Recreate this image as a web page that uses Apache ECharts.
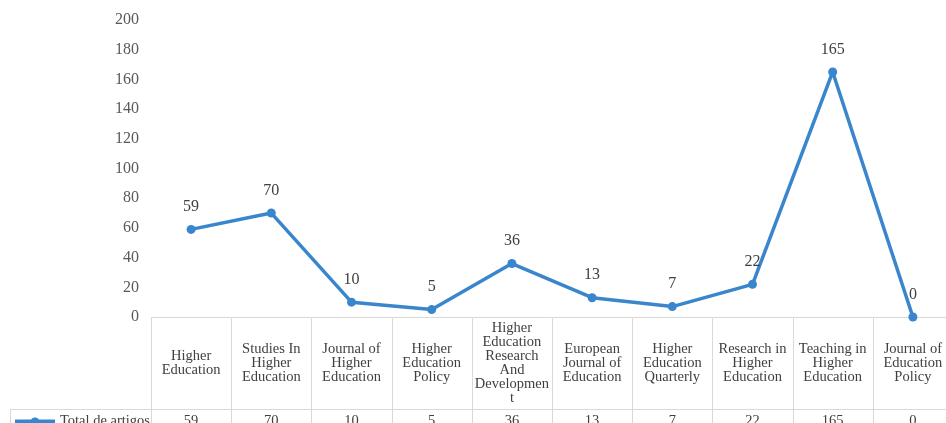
<!DOCTYPE html>
<html><head><meta charset="utf-8">
<script src="https://cdn.jsdelivr.net/npm/echarts@6/dist/echarts.min.js"></script>
<style>html,body{margin:0;padding:0;background:#fff}#c{width:946px;height:423px}</style>
</head><body><div id="c"></div>
<script>
const categories = ["Higher\nEducation","Studies In\nHigher\nEducation","Journal of\nHigher\nEducation","Higher\nEducation\nPolicy","Higher\nEducation\nResearch\nAnd\nDevelopmen\nt","European\nJournal of\nEducation","Higher\nEducation\nQuarterly","Research in\nHigher\nEducation","Teaching in\nHigher\nEducation","Journal of\nEducation\nPolicy"];
const seriesName = "Total de artigos";
const values = [59,70,10,5,36,13,7,22,165,0];
const yTicks = {min:0,max:200,interval:20};

const FONT = "'Liberation Serif','Times New Roman',serif";
const BLUE = "#3A86CC";
const chart = echarts.init(document.getElementById('c'));
const gridTop = 20, gridLeft = 151, gridWidth = 802, gridHeight = 297;
chart.setOption({
  animation:false,
  grid:{left:gridLeft,width:gridWidth,top:gridTop,height:gridHeight,containLabel:false,outerBoundsMode:'none'},
  legend:{left:13,top:414,padding:0,itemWidth:40,itemHeight:10,itemGap:2,
    lineStyle:{width:4},
    textStyle:{fontFamily:FONT,fontSize:14.5,color:'#404040'},data:[seriesName]},
  xAxis:[{type:'category',data:categories,boundaryGap:true,
    axisLine:{show:false},axisTick:{show:false},splitLine:{show:false},
    axisLabel:{interval:0,fontFamily:FONT,fontSize:14.5,lineHeight:14,color:'#404040',
      margin:46,verticalAlign:'middle',align:'center'}},
   {type:'category',data:categories,position:'bottom',boundaryGap:true,
    axisLine:{show:false},axisTick:{show:false},
    axisLabel:{interval:0,fontFamily:FONT,fontSize:14.5,color:'#404040',margin:97,
      formatter:(v,i)=>String(values[i])}}],
  yAxis:{type:'value',min:yTicks.min,max:yTicks.max,interval:yTicks.interval,
    axisLine:{show:false},axisTick:{show:false},splitLine:{show:false},
    axisLabel:{fontFamily:FONT,fontSize:16,color:'#595959',margin:12}},
  series:[{name:seriesName,type:'line',data:values,xAxisIndex:0,
    lineStyle:{color:BLUE,width:3.5},itemStyle:{color:BLUE},
    symbol:'circle',symbolSize:9,
    label:{show:true,position:'top',distance:10,fontFamily:FONT,fontSize:16,color:'#404040'}}]
});
// table borders from axis scale
const n = categories.length;
const x0 = chart.convertToPixel({xAxisIndex:0},0);
const x1 = chart.convertToPixel({xAxisIndex:0},1);
const bw = x1 - x0;
const yZero = chart.convertToPixel({yAxisIndex:0},0);
const rowY = yZero + 92;
const H = 423;
const lines = [];
const st = {stroke:'#d9d9d9',lineWidth:1};
for (let i=0;i<=n;i++){
  const x = Math.round(x0 - bw/2 + i*bw)+0.5;
  lines.push({type:'line',shape:{x1:x,y1:yZero,x2:x,y2:H},style:st,silent:true});
}
const xl = Math.round(x0 - bw/2);
lines.push({type:'line',shape:{x1:xl,y1:Math.round(yZero)+0.5,x2:946,y2:Math.round(yZero)+0.5},style:st,silent:true});
lines.push({type:'line',shape:{x1:10,y1:Math.round(rowY)+0.5,x2:946,y2:Math.round(rowY)+0.5},style:st,silent:true});
lines.push({type:'line',shape:{x1:10.5,y1:rowY,x2:10.5,y2:H},style:st,silent:true});
chart.setOption({graphic:{elements:lines.map(l=>Object.assign(l,{z:-1}))}});
</script></body></html>
